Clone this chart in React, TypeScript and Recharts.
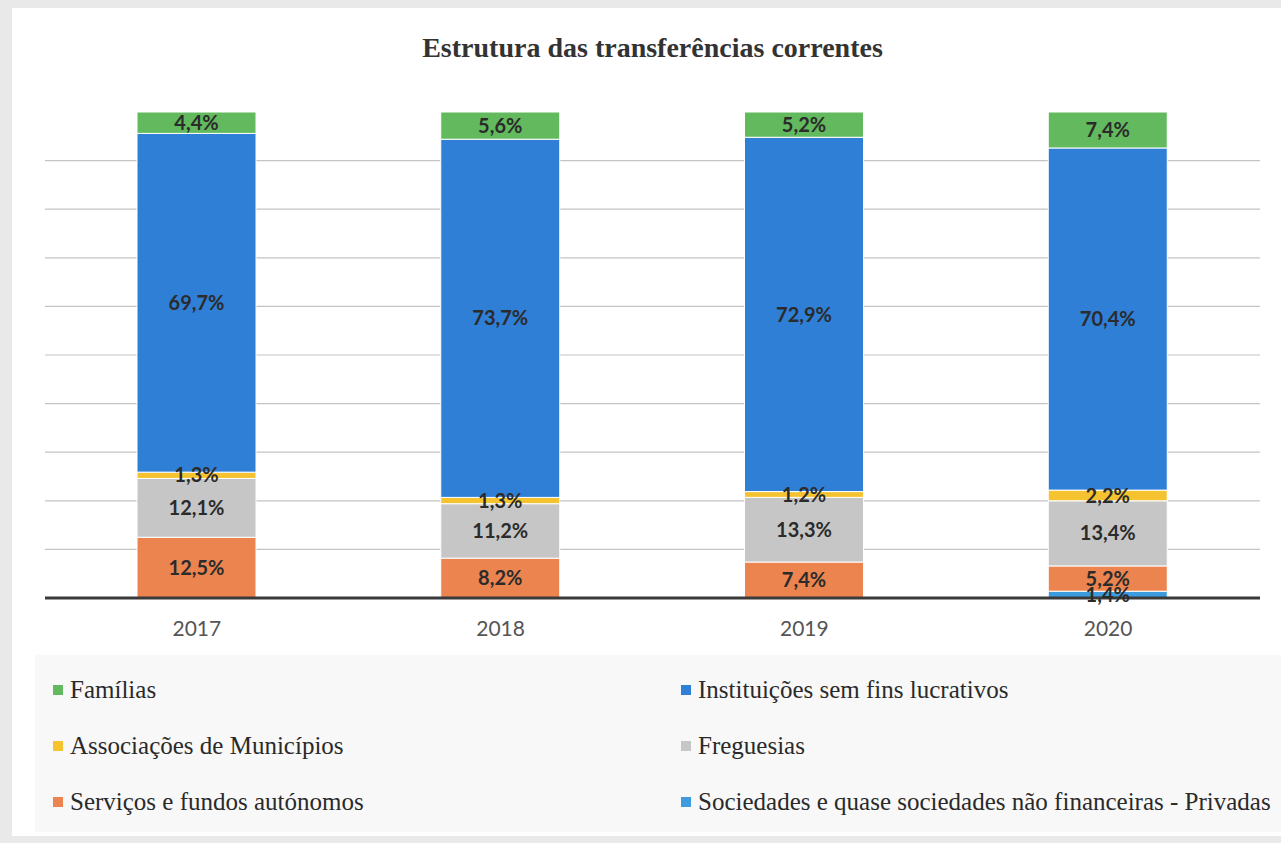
import React from 'react';
import { BarChart, Bar, XAxis, YAxis, CartesianGrid, LabelList } from 'recharts';

const years = ['2017', '2018', '2019', '2020'];
const sociedades = [0, 0, 0, 1.4];
const servicos = [12.5, 8.2, 7.4, 5.2];
const freguesias = [12.1, 11.2, 13.3, 13.4];
const associacoes = [1.3, 1.3, 1.2, 2.2];
const instituicoes = [69.7, 73.7, 72.9, 70.4];
const familias = [4.4, 5.6, 5.2, 7.4];
const gridTicks = [10, 20, 30, 40, 50, 60, 70, 80, 90];
const yMax = 100;

// stack order, bottom first
const series = [
  { key: 'sociedades', name: 'Sociedades e quase sociedades não financeiras - Privadas', values: sociedades, color: '#3d9be0' },
  { key: 'servicos', name: 'Serviços e fundos autónomos', values: servicos, color: '#ec8450' },
  { key: 'freguesias', name: 'Freguesias', values: freguesias, color: '#c6c6c6' },
  { key: 'associacoes', name: 'Associações de Municípios', values: associacoes, color: '#f6c330' },
  { key: 'instituicoes', name: 'Instituições sem fins lucrativos', values: instituicoes, color: '#2f7fd7' },
  { key: 'familias', name: 'Famílias', values: familias, color: '#62b95e' },
];

// legend reading order (two columns)
const legendOrder = ['familias', 'instituicoes', 'associacoes', 'freguesias', 'servicos', 'sociedades'];

const data = years.map((y, i) => {
  const row: Record<string, string | number> = { year: y };
  series.forEach(s => { row[s.key] = s.values[i]; });
  return row;
});

const fmt = (v: any) => (v ? Number(v).toFixed(1).replace('.', ',') + '%' : '');

export default function App() {
  return (
    <div style={{ position: 'absolute', left: 0, top: 0, width: 1281, height: 843, background: '#e9e9e9', overflow: 'hidden' }}>
      <div style={{ position: 'absolute', left: 12, top: 8, width: 1269, height: 828, background: '#ffffff' }} />
      <div style={{ position: 'absolute', left: 24, top: 32, width: 1257, textAlign: 'center', fontFamily: '"Liberation Serif", serif', fontWeight: 'bold', fontSize: 28, color: '#333' }}>
        Estrutura das transferências correntes
      </div>
      <div style={{ position: 'absolute', left: 0, top: 0 }}>
        <BarChart width={1281} height={660} data={data} margin={{ top: 112, right: 21, bottom: 32, left: 45 }} barSize={119}>
          <CartesianGrid
            vertical={false}
            stroke="#c4c4c4"
            strokeWidth={1.2}
            horizontalCoordinatesGenerator={({ offset }: any) =>
              gridTicks.map(t => offset.top + offset.height * (1 - t / yMax))
            }
          />
          <YAxis hide domain={[0, yMax]} ticks={gridTicks} />
          <XAxis
            dataKey="year"
            axisLine={{ stroke: '#3a3a3a', strokeWidth: 3 }}
            tickLine={false}
            tickSize={0}
            tickMargin={23}
            height={30}
            tick={{ fill: '#555', fontSize: 21, fontFamily: 'Lato, sans-serif' }}
          />
          {series.map(s => (
            <Bar key={s.key} dataKey={s.key} stackId="a" fill={s.color} stroke="#ffffff" strokeWidth={1} isAnimationActive={false}>
              <LabelList dataKey={s.key} position="center" formatter={fmt} fill="#2b2b2b" fontSize={20} fontWeight="bold" fontFamily="Lato, sans-serif" />
            </Bar>
          ))}
        </BarChart>
      </div>
      <div style={{ position: 'absolute', left: 35, top: 655, width: 1246, height: 177, background: '#f8f8f8' }} />
      {legendOrder.map((k, i) => {
        const s = series.find(x => x.key === k)!;
        const col = i % 2;
        const row = Math.floor(i / 2);
        return (
          <div key={k} style={{ position: 'absolute', left: col === 0 ? 53 : 681, top: 690 + row * 56 - 16, height: 32, display: 'flex', alignItems: 'center', fontFamily: '"Liberation Serif", serif', fontSize: 25, color: '#2a2a2a', whiteSpace: 'nowrap' }}>
            <span style={{ display: 'inline-block', width: 10, height: 10, background: s.color, marginRight: 7 }} />
            {s.name}
          </div>
        );
      })}
    </div>
  );
}
